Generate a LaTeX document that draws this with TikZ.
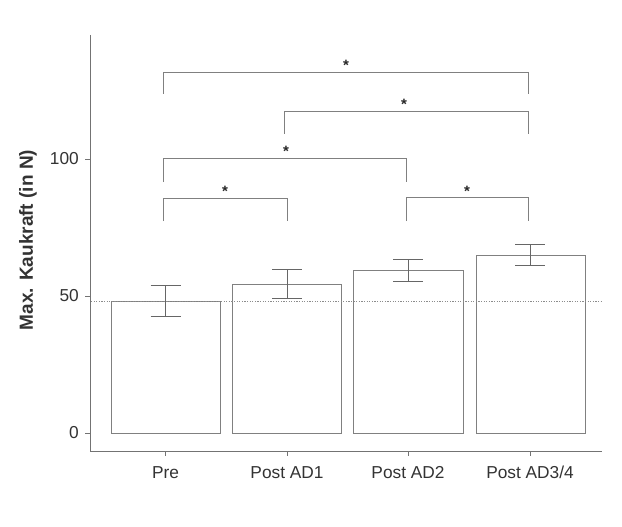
\documentclass[tikz,border=0pt]{standalone}
\usepackage{fontspec}
\setmainfont{Liberation Sans}
\begin{document}
\begin{tikzpicture}[x=1pt,y=-1pt,
  axis/.style={draw=black!55,line width=0.9pt},
  barbox/.style={draw=black!50,line width=0.9pt,fill=white},
  errbar/.style={draw=black!60,line width=0.9pt},
  sigbr/.style={draw=black!50,line width=0.9pt},
  refline/.style={draw=black!45,line width=0.9pt,dash pattern=on 1.2pt off 1.4pt},
  ticklab/.style={font=\fontsize{17.3}{19}\selectfont,text=black!80,inner sep=0pt},
  starlab/.style={font=\fontsize{15}{15}\bfseries\selectfont,text=black!85,inner sep=0pt}]
\useasboundingbox (0,0) rectangle (622,527);
% bars
\draw[barbox] (111,433) rectangle (220,301);
\draw[barbox] (232,433) rectangle (341,284);
\draw[barbox] (353,433) rectangle (463,270);
\draw[barbox] (476,433) rectangle (585,255);
% reference line
\draw[refline] (91,301) -- (602,301);
% error bars
\foreach \x/\t/\b in {165.5/285/316, 287/269/298, 408/259/281, 530/244/265}{
  \draw[errbar] (\x,\t) -- (\x,\b);
  \draw[errbar] (\x-15,\t) -- (\x+15,\t);
  \draw[errbar] (\x-15,\b) -- (\x+15,\b);
}
% axes
\draw[axis] (90,35) -- (90,451) -- (602,451);
\foreach \y/\l in {433/0,296/50,159/100}{
  \draw[axis] (85,\y) -- (90,\y);
  \node[ticklab,anchor=east] (yt\l) at (79,\y) {\l};
}
\foreach \x/\l/\n in {165.5/Pre/a,287/Post AD1/b,408/Post AD2/c,530/Post AD3\slash 4/d}{
  \draw[axis] (\x,451) -- (\x,456);
  \node[ticklab,anchor=base] (xt\n) at (\x,478) {\l};
}
\node[rotate=90,font=\fontsize{19}{21}\bfseries\selectfont,text=black!80,inner sep=0pt] (ylab) at (28,240) {Max. Kaukraft (in N)};
% significance brackets
\draw[sigbr] (163,94) -- (163,72) -- (528,72) -- (528,94);
\node[starlab] (s1) at (346,65) {*};
\draw[sigbr] (284,134) -- (284,111) -- (528,111) -- (528,134);
\node[starlab] (s2) at (404,104) {*};
\draw[sigbr] (163,182) -- (163,158) -- (406,158) -- (406,182);
\node[starlab] (s3) at (286,151) {*};
\draw[sigbr] (406,221) -- (406,197) -- (528,197) -- (528,221);
\node[starlab] (s4) at (467,191) {*};
\draw[sigbr] (163,221) -- (163,198) -- (287,198) -- (287,221);
\node[starlab] (s5) at (225,191) {*};
\end{tikzpicture}
\end{document}
